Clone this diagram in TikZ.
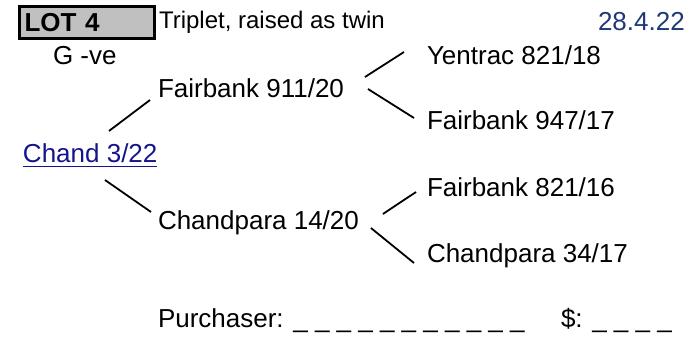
\documentclass[tikz,border=0pt]{standalone}
\usepackage{fontspec}
\setmainfont{Liberation Sans}
\usetikzlibrary{calc}
\definecolor{datecol}{RGB}{31,56,122}
\definecolor{linkcol}{RGB}{20,20,140}
\definecolor{boxgray}{RGB}{192,192,192}
\begin{document}
\begin{tikzpicture}[x=1pt,y=-1pt,
  lbl/.style={anchor=base west,inner sep=0pt,outer sep=0pt,font=\fontsize{26}{31}\selectfont},
  small/.style={anchor=base west,inner sep=0pt,outer sep=0pt,font=\fontsize{24}{29}\selectfont},
  lotbox/.style={draw=black,line width=3pt,fill=boxgray,anchor=north west,
    minimum width=135pt,minimum height=32pt,inner xsep=5.5pt,inner ysep=0pt,
    text width=124pt,align=left,font=\fontsize{26}{31}\selectfont\bfseries},
  conn/.style={draw=black,line width=1.8pt}]
\useasboundingbox (0,0) rectangle (696,337);
\node[lotbox] (lot) at (17.5,5.5) {LOT 4};
\node[small] (trip) at (159,29) {Triplet, raised as twin};
\node[lbl,text=datecol] (date) at (598,31) {28.4.22};
\node[lbl] (gve) at (53,64) {G -ve};
\node[lbl] (f911) at (158,97) {Fairbank 911/20};
\node[lbl,text=linkcol] (chand) at (23,162) {Chand 3/22};
\draw[linkcol,line width=1.9pt] ([shift={(0,4.5)}]chand.base west) -- ([shift={(0,4.5)}]chand.base east);
\node[lbl] (c1420) at (158,229) {Chandpara 14/20};
\node[lbl] (y821) at (427,64) {Yentrac 821/18};
\node[lbl] (f947) at (427,129) {Fairbank 947/17};
\node[lbl] (f821) at (427,196) {Fairbank 821/16};
\node[lbl] (c3417) at (427,262) {Chandpara 34/17};
\node[lbl] (purch) at (158,327) {Purchaser: \_ \_ \_ \_ \_ \_ \_ \_ \_ \_ \_};
\node[lbl] (price) at (561,327) {\$: \_ \_ \_ \_};
\draw[conn] ([shift={(86,-31)}]chand.base west) -- ([shift={(-8,3)}]f911.base west);
\draw[conn] ([shift={(82,18)}]chand.base west) -- ([shift={(-7,-17)}]c1420.base west);
\draw[conn] ([shift={(21,-20)}]f911.base east) -- ([shift={(-23,-12)}]y821.base west);
\draw[conn] ([shift={(24,-8)}]f911.base east) -- ([shift={(-13,-11)}]f947.base west);
\draw[conn] ([shift={(24,-15)}]c1420.base east) -- ([shift={(-11,-4)}]f821.base west);
\draw[conn] ([shift={(12,-1)}]c1420.base east) -- ([shift={(-13,1)}]c3417.base west);
\end{tikzpicture}
\end{document}
